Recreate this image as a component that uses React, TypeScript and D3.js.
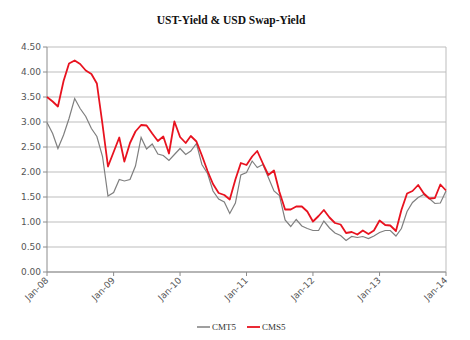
import React from "react";
import * as d3 from "d3";

const startDate = new Date(2008, 0, 1);
const tickLabels = ["Jan-08", "Jan-09", "Jan-10", "Jan-11", "Jan-12", "Jan-13", "Jan-14"];
const yTicks = [0, 0.5, 1, 1.5, 2, 2.5, 3, 3.5, 4, 4.5];

// CMT5 (UST 5y yield), monthly Jan-08 .. Jan-14
const cmt5 = [
  2.99, 2.77, 2.47, 2.74, 3.07, 3.47, 3.27, 3.11, 2.87, 2.71, 2.31, 1.52,
  1.59, 1.85, 1.82, 1.85, 2.12, 2.69, 2.46, 2.56, 2.36, 2.33, 2.23, 2.35,
  2.47, 2.35, 2.42, 2.57, 2.15, 1.97, 1.62, 1.46, 1.40, 1.17, 1.38, 1.94,
  1.99, 2.22, 2.09, 2.15, 1.89, 1.62, 1.53, 1.04, 0.91, 1.05, 0.92, 0.87,
  0.83, 0.83, 1.02, 0.88, 0.78, 0.73, 0.63, 0.71, 0.69, 0.71, 0.67, 0.72,
  0.79, 0.83, 0.83, 0.72, 0.87, 1.21, 1.39, 1.49, 1.55, 1.47, 1.37, 1.38,
  1.62,
];

// CMS5 (USD 5y swap yield)
const cms5 = [
  3.50, 3.41, 3.31, 3.82, 4.17, 4.23, 4.16, 4.03, 3.96, 3.77, 2.95, 2.11,
  2.40, 2.69, 2.21, 2.58, 2.81, 2.94, 2.93, 2.77, 2.62, 2.71, 2.37, 3.01,
  2.70, 2.58, 2.72, 2.61, 2.33, 2.02, 1.76, 1.58, 1.54, 1.45, 1.85, 2.18,
  2.14, 2.31, 2.42, 2.17, 1.94, 2.03, 1.60, 1.25, 1.25, 1.31, 1.31, 1.21,
  1.01, 1.12, 1.24, 1.09, 0.98, 0.95, 0.78, 0.80, 0.75, 0.83, 0.76, 0.83,
  1.03, 0.94, 0.93, 0.82, 1.24, 1.57, 1.62, 1.74, 1.57, 1.47, 1.48, 1.75,
  1.63,
];

const W = 470;
const H = 340;
const M = { left: 47, right: 24, top: 47, bottom: 68 };

export default function App() {
  const dates = cmt5.map((_, i) => d3.timeMonth.offset(startDate, i));
  const x = d3
    .scaleTime()
    .domain([dates[0], dates[dates.length - 1]])
    .range([M.left, W - M.right]);
  const y = d3.scaleLinear().domain([0, 4.5]).range([H - M.bottom, M.top]);

  const line = d3
    .line<number>()
    .x((_, i) => x(dates[i]))
    .y((d) => y(d));

  const tickDates = tickLabels.map((_, i) => d3.timeYear.offset(startDate, i));
  const axisColor = "#8c8c8c";
  const textColor = "#555";
  const font = "'DejaVu Sans', Verdana, sans-serif";

  return (
    <svg width={W} height={H} style={{ position: "absolute", left: 0, top: 0 }}>
      <rect x={0} y={0} width={W} height={H} fill="#fff" />
      <text
        x={231}
        y={24}
        textAnchor="middle"
        fontFamily="'Liberation Serif', 'Times New Roman', serif"
        fontWeight="bold"
        fontSize={11.5}
        fill="#111"
      >
        UST-Yield &amp; USD Swap-Yield
      </text>

      {/* gridlines */}
      {yTicks.map((t) => (
        <line
          key={"g" + t}
          x1={M.left}
          x2={W - M.right}
          y1={y(t)}
          y2={y(t)}
          stroke="#bdbdbd"
          strokeWidth={1}
        />
      ))}
      {/* right border */}
      <line x1={W - M.right} x2={W - M.right} y1={M.top} y2={y(0)} stroke="#bdbdbd" />

      {/* y axis */}
      <line x1={M.left} x2={M.left} y1={M.top} y2={y(0)} stroke={axisColor} />
      {yTicks.map((t) => (
        <g key={"y" + t}>
          <line x1={M.left - 4} x2={M.left} y1={y(t)} y2={y(t)} stroke={axisColor} />
          <text
            x={M.left - 6}
            y={y(t) + 3.2}
            textAnchor="end"
            fontFamily={font}
            fontSize={9}
            fill={textColor}
          >
            {t.toFixed(2)}
          </text>
        </g>
      ))}

      {/* x axis */}
      <line x1={M.left} x2={W - M.right} y1={y(0)} y2={y(0)} stroke={axisColor} />
      {tickDates.map((d, i) => (
        <g key={"x" + i}>
          <line x1={x(d)} x2={x(d)} y1={y(0)} y2={y(0) + 4} stroke={axisColor} />
          <text
            transform={`translate(${x(d) + 2},${y(0) + 9}) rotate(-45)`}
            textAnchor="end"
            fontFamily={font}
            fontSize={9}
            fill={textColor}
          >
            {tickLabels[i]}
          </text>
        </g>
      ))}

      {/* series */}
      <path d={line(cmt5) || ""} fill="none" stroke="#7f7f7f" strokeWidth={1.2} />
      <path d={line(cms5) || ""} fill="none" stroke="#e8121f" strokeWidth={1.8} strokeLinejoin="round" />

      {/* legend */}
      <g fontFamily="'Liberation Serif', 'Times New Roman', serif" fontSize={9} fill="#333">
        <line x1={197} x2={210} y1={327} y2={327} stroke="#7f7f7f" strokeWidth={1.5} />
        <text x={212} y={330}>CMT5</text>
        <line x1={247} x2={260} y1={327} y2={327} stroke="#e8121f" strokeWidth={1.8} />
        <text x={262} y={330}>CMS5</text>
      </g>
    </svg>
  );
}
